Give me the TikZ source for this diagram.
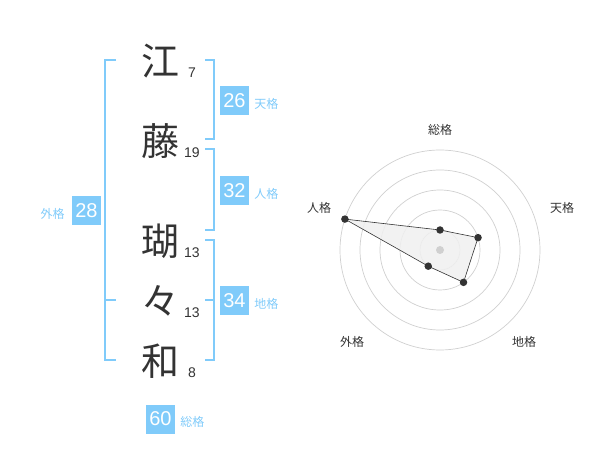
\documentclass[tikz,border=0pt]{standalone}
\usepackage{fontspec}
\usepackage{xcolor}
\usepackage{tikz}
\usetikzlibrary{positioning,calc}
\setmainfont{Liberation Sans}
\newfontfamily\jpfont{Noto Sans CJK JP}
\definecolor{skyink}{RGB}{128,203,250}
\definecolor{inkgray}{RGB}{51,51,51}
\definecolor{ringgray}{RGB}{208,208,208}
\definecolor{fillgray}{RGB}{240,240,240}

\begin{document}
\begin{tikzpicture}[x=1pt, y=-1pt,
    bracket/.style={skyink, line width=2pt},
    scorebox/.style={fill=skyink, text=white, minimum size=29pt, inner sep=0pt, font=\fontsize{20}{20}\selectfont},
    gradelabel/.style={skyink, inner sep=0pt, font=\jpfont\fontsize{12}{12}\selectfont},
    axislabel/.style={inkgray, inner sep=0pt, font=\jpfont\fontsize{12}{12}\selectfont},
    dot/.style={circle, fill=inkgray, inner sep=0pt, minimum size=7.5pt}]
    \useasboundingbox (0,0) rectangle (600,470);

    % Name characters with stroke counts
    \foreach \ch/\strokes/\y/\id in {
        江/7/61/a,
        藤/19/141/b,
        瑚/13/241/c,
        々/13/301/d,
        和/8/361/e%
    } {
        \node[inkgray, font=\jpfont\fontsize{38}{38}\selectfont] (ch\id) at (160,\y) {\ch};
        \node[inkgray, font=\fontsize{14}{14}\selectfont] (st\id) at (192,\y+12) {\strokes};
    }

    % Outer bracket
    \draw[bracket] (116,60) -- (105,60) -- (105,360) -- (116,360);
    \draw[bracket] (105,300) -- (116,300);

    % Right brackets
    \foreach \top/\bot in {60/139, 149/230, 240/360} {
        \draw[bracket] (205,\top) -- (214,\top) -- (214,\bot) -- (205,\bot);
    }
    \draw[bracket] (205,300) -- (214,300);

    % Score boxes
    \foreach \val/\grade/\x/\y in {
        26/天格/234.5/100.5,
        32/人格/234.5/190.5,
        34/地格/234.5/300.5,
        60/総格/160.5/419%
    } {
        \node[scorebox] (sc\val) at (\x,\y) {\val};
        \node[gradelabel, right=5pt of sc\val, yshift=-3pt] (gr\val) {\grade};
    }
    \node[scorebox] (sc28) at (86.5,210.5) {28};
    \node[gradelabel, left=7pt of sc28, yshift=-3pt] (gr28) {外格};

    % Radar chart
    \begin{scope}[shift={(440,250)}, y=1pt]
        \foreach \r in {20,40,...,100} {
            \draw[ringgray, line width=0.7pt] (0,0) circle[radius=\r];
        }

        % Data points
        \foreach \ang/\r/\id in {90/20/so, 18/40/te, -54/40/ti, -126/20/ga, 162/100/ji} {
            \coordinate (p\id) at (\ang:\r);
        }
        \fill[fillgray, opacity=0.85] (pso) -- (pte) -- (pti) -- (pga) -- (pji) -- cycle;
        \fill[ringgray] (0,0) circle[radius=4];
        \draw[inkgray, line width=0.6pt] (pso) -- (pte) -- (pti) -- (pga) -- (pji) -- cycle;
        \foreach \id in {so,te,ti,ga,ji} {
            \node[dot] (d\id) at (p\id) {};
        }

        % Axis labels
        \node[axislabel] (lso) at (0,120) {総格};
        \node[axislabel] (lte) at (122,42) {天格};
        \node[axislabel] (lji) at (-121,42) {人格};
        \node[axislabel] (lga) at (-88,-92) {外格};
        \node[axislabel] (lti) at (84,-92) {地格};
    \end{scope}
\end{tikzpicture}
\end{document}
